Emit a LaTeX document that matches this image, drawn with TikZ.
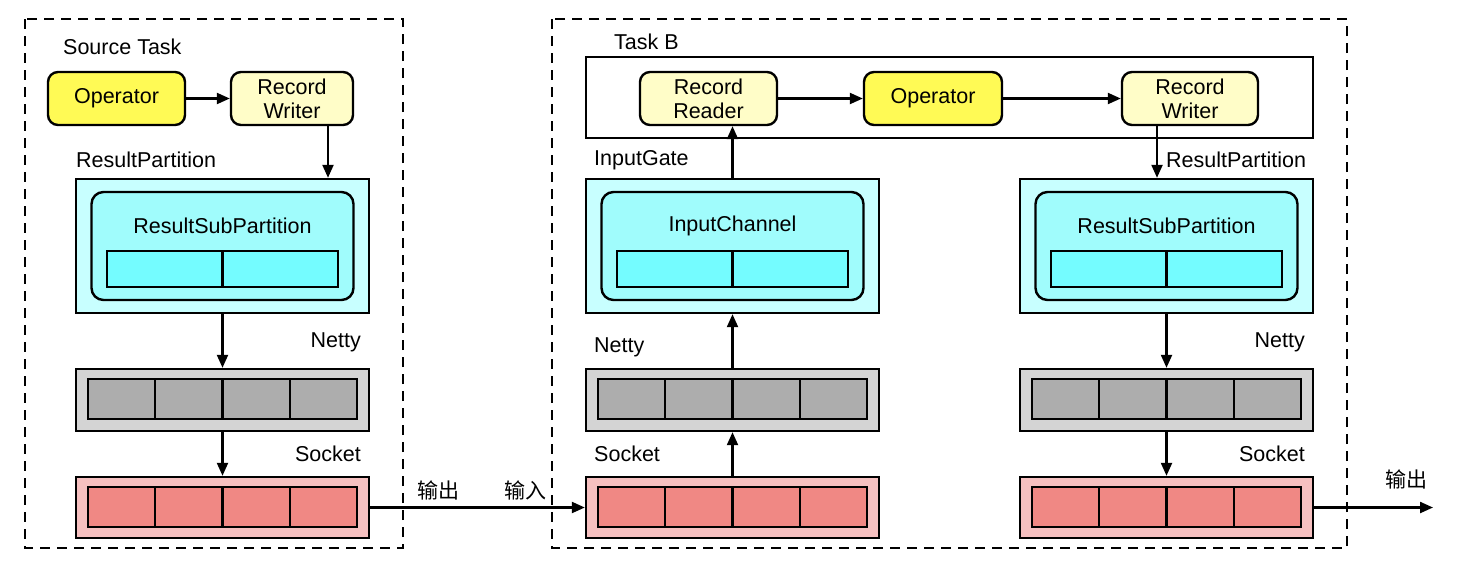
\documentclass[tikz,border=0pt]{standalone}
\usepackage{fontspec}
\setmainfont{Liberation Sans}
\newfontfamily\cjk{Noto Sans CJK SC}
\usetikzlibrary{arrows.meta,calc}
\definecolor{opY}{HTML}{FFFA55}
\definecolor{rwY}{HTML}{FFFDC8}
\definecolor{rpC}{HTML}{C8FFFF}
\definecolor{subC}{HTML}{A0FCFC}
\definecolor{bufC}{HTML}{74FCFF}
\definecolor{netO}{HTML}{D4D4D4}
\definecolor{netI}{HTML}{ADADAD}
\definecolor{sockO}{HTML}{F6C0C0}
\definecolor{sockI}{HTML}{F08884}
\newcommand\colstack[3]{%
  \node[rpbox] (#1rp) at (#2,246) {};
  \node[subbox] (#1sub) at (#2,246) {};
  \node[lbl] (#1subt) at (#2,226) {#3};
  \draw[bufstrip] (#2-115.5,251) rectangle (#2+115.5,287);
  \draw[sepline] (#2,251) -- (#2,287);
  \node[nettyo] (#1net) at (#2,400) {};
  \draw[netcellstrip] (#2-134.5,379) rectangle (#2+134.5,419);
  \foreach \d in {-1,0,1} \draw[sepline] (#2+\d*67.25,379) -- (#2+\d*67.25,419);
  \node[socko] (#1sock) at (#2,507.5) {};
  \draw[sockcellstrip] (#2-134.5,487) rectangle (#2+134.5,527);
  \foreach \d in {-1,0,1} \draw[sepline] (#2+\d*67.25,487) -- (#2+\d*67.25,527);
}
\begin{document}
\begin{tikzpicture}[x=1pt,y=-1pt,
  font=\fontsize{21.5pt}{24pt}\selectfont,
  opbox/.style={draw, line width=2.4pt, rounded corners=10pt, fill=opY, minimum width=137pt, minimum height=53pt, inner sep=0pt, align=center},
  rwbox/.style={opbox, fill=rwY},
  rpbox/.style={draw, line width=2.4pt, fill=rpC, minimum width=293pt, minimum height=134pt, inner sep=0pt},
  subbox/.style={draw, line width=2.4pt, fill=subC, rounded corners=12pt, minimum width=262pt, minimum height=108pt, inner sep=0pt},
  bufstrip/.style={draw, line width=2.4pt, fill=bufC},
  nettyo/.style={draw, line width=2.4pt, fill=netO, minimum width=293pt, minimum height=62pt, inner sep=0pt},
  socko/.style={draw, line width=2.4pt, fill=sockO, minimum width=293pt, minimum height=61pt, inner sep=0pt},
  netcellstrip/.style={draw, line width=2.4pt, fill=netI},
  sockcellstrip/.style={draw, line width=2.4pt, fill=sockI},
  sepline/.style={line width=2.4pt},
  lbl/.style={inner sep=0pt},
  zh/.style={inner sep=0pt, font=\cjk\fontsize{21pt}{23pt}\selectfont},
  arr/.style={line width=2.2pt, -{Triangle[length=13pt,width=11pt]}},
  dbox/.style={draw, line width=2.6pt, dash pattern=on 10pt off 7pt}
]
\useasboundingbox (0,0) rectangle (1458,576);
\fill[white] (0,0) rectangle (1458,576);

% dashed task containers
\draw[dbox] (25,19) rectangle (403,548);
\draw[dbox] (552,19) rectangle (1347,548);

% Source Task
\node[lbl,anchor=west] (srcT) at (63,47) {Source Task};
\node[opbox] (lop) at (116.5,98.5) {Operator};
\node[rwbox, minimum width=122pt] (lrw) at (292,98.5) {Record\\Writer};
\node[lbl,anchor=west] (lrpT) at (76,160) {ResultPartition};
\colstack{l}{222.5}{ResultSubPartition}
\node[lbl,anchor=east] (lnetT) at (361,342) {Netty};
\node[lbl,anchor=east] (lsockT) at (361,454) {Socket};

% Task B
\node[lbl,anchor=west] (tbT) at (614,42) {Task B};
\node[draw, line width=2.4pt, minimum width=727pt, minimum height=81pt, inner sep=0pt] (tb) at (949.5,97.5) {};
\node[rwbox] (mrr) at (708.5,98.5) {Record\\Reader};
\node[opbox, minimum width=138pt] (mop) at (933,98.5) {Operator};
\node[rwbox, minimum width=136pt] (mrw) at (1190,98.5) {Record\\Writer};
\node[lbl,anchor=west] (migT) at (594,160) {InputGate};
\colstack{m}{732.5}{InputChannel}
\node[lbl,anchor=west] (mnetT) at (594,347) {Netty};
\node[lbl,anchor=west] (msockT) at (594,454) {Socket};
\node[lbl,anchor=west] (rrpT) at (1166,160) {ResultPartition};
\colstack{r}{1166.5}{ResultSubPartition}
\node[lbl,anchor=east] (rnetT) at (1305,342) {Netty};
\node[lbl,anchor=east] (rsockT) at (1305,454) {Socket};

% Chinese labels
\node[zh,anchor=west] (out1) at (417,490) {输出};
\node[zh,anchor=east] (in1) at (547,490) {输入};
\node[zh,anchor=west] (out2) at (1385,479) {输出};
\coordinate (outR) at (1433,507.5);

% connectors
\draw[arr] (lop) -- (lrw);
\draw[arr] ([xshift=36pt]lrw.south) -- ([xshift=36pt]lrw.south |- lrp.north);
\draw[arr] (lrp.south) -- (lnet.north);
\draw[arr] (lnet.south) -- (lsock.north);
\draw[arr] (lsock.east) -- (msock.west);
\draw[arr] (msock.north) -- (mnet.south);
\draw[arr] (mnet.north) -- (mrp.south);
\draw[arr] (mrp.north) -- (mrp.north |- mrr.south);
\draw[arr] (mrr) -- (mop);
\draw[arr] (mop) -- (mrw);
\draw[arr] ([xshift=-33pt]mrw.south) -- ([xshift=-33pt]mrw.south |- rrp.north);
\draw[arr] (rrp.south) -- (rnet.north);
\draw[arr] (rnet.south) -- (rsock.north);
\draw[arr] (rsock.east) -- (outR);
\end{tikzpicture}
\end{document}
